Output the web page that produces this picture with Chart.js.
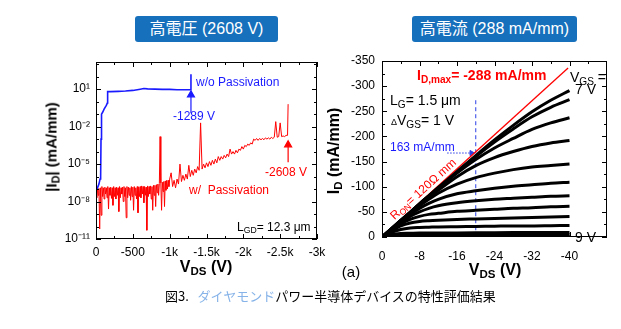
<!DOCTYPE html>
<html>
<head>
<meta charset="utf-8">
<title>ダイヤモンドパワー半導体デバイスの特性評価結果</title>
<script src="https://cdn.jsdelivr.net/npm/chart.js@4.4.1/dist/chart.umd.min.js"></script>
<style>
  html, body { margin: 0; padding: 0; background: #fff; }
  #fig { position: relative; width: 621px; height: 329px; overflow: hidden;
         font-family: "Liberation Sans", Arial, "Noto Sans CJK JP", sans-serif; color: #000; }
  canvas { position: absolute; left: 0; top: 0; }
  .t { position: absolute; white-space: nowrap; line-height: 1; transform: translateY(-50%); z-index: 2; }
  .t sub { font-size: 72%; vertical-align: -0.25em; line-height: 0; }
  .box { position: absolute; top: 16px; height: 26px; background: #1670bc; color: #fff;
         border-radius: 3px; font-size: 16px; line-height: 26px; text-align: center; z-index: 2; }
  .blue { color: #1a1aff; }
  .red { color: #ff0000; }
  .b { font-weight: bold; }
</style>
</head>
<body>
<div id="fig">
  <canvas id="bd" width="621" height="329"></canvas>
  <canvas id="iv" width="621" height="329"></canvas>

  <div class="box" style="left:135px;width:143px;">高電圧 (2608 V)</div>
  <div class="box" style="left:412px;width:165px;">高電流 (288 mA/mm)</div>

  <!-- 左パネル -->
  <div class="t blue" style="left:196px;top:82px;font-size:12px;">w/o Passivation</div>
  <div class="t blue" style="left:173px;top:116px;font-size:12px;">-1289 V</div>
  <div class="t red" style="left:265px;top:172px;font-size:12px;">-2608 V</div>
  <div class="t red" style="left:189px;top:190px;font-size:12px;">w/&nbsp;&nbsp;Passivation</div>
  <div class="t" style="left:237px;top:227px;font-size:12px;">L<sub>GD</sub>= 12.3 μm</div>
  <div class="t b" style="left:51px;top:147px;font-size:15px;transform:translate(-50%,-50%) rotate(-90deg);">|I<sub>D</sub>| (mA/mm)</div>
  <div class="t b" style="left:206px;top:267px;font-size:16px;transform:translate(-50%,-50%);">V<sub>DS</sub> (V)</div>

  <!-- 右パネル -->
  <div class="t red b" style="left:417px;top:75px;font-size:14px;">I<sub>D,max</sub>= -288 mA/mm</div>
  <div class="t" style="left:570px;top:77px;font-size:14px;">V<sub>GS</sub> =</div>
  <div class="t" style="left:575px;top:89px;font-size:14px;">7 V</div>
  <div class="t" style="left:390px;top:100px;font-size:14px;">L<sub>G</sub>= 1.5 μm</div>
  <div class="t" style="left:391px;top:120px;font-size:14px;"><span style="font-size:9px;">Δ</span>V<sub>GS</sub>= 1 V</div>
  <div class="t blue" style="left:390px;top:147px;font-size:12px;">163 mA/mm</div>
  <div class="t red" style="left:423px;top:189px;font-size:12px;transform:translate(-50%,-50%) rotate(-42.3deg);">R<sub>ON</sub>= 120Ω mm</div>
  <div class="t" style="left:575px;top:237px;font-size:14px;">9 V</div>
  <div class="t b" style="left:334px;top:151px;font-size:16px;transform:translate(-50%,-50%) rotate(-90deg);">I<sub>D</sub> (mA/mm)</div>
  <div class="t b" style="left:495px;top:270px;font-size:16px;transform:translate(-50%,-50%);">V<sub>DS</sub> (V)</div>
  <div class="t" style="left:351px;top:271px;font-size:15px;transform:translate(-50%,-50%);">(a)</div>

  <div class="t" style="left:165px;top:295px;font-size:13px;font-family:'Noto Sans CJK JP',sans-serif;">図3.&nbsp;&nbsp;&nbsp;<span style="color:#86b3e8;">ダイヤモンド</span>パワー半導体デバイスの特性評価結果</div>
</div>

<script>
// ---- 左: オフ耐圧 |I_D| - V_DS (対数表示、値は log10 で読み取り) ----
const noPassV = [0, -20, -40, -55, -63, -68, -75, -90, -110, -140, -155, -158, -200, -300,
  -400, -500, -600, -650, -700, -800, -900, -1000, -1100, -1200, -1285, -1289];
const noPassLogI = [-7.1, -6.9, -6.6, -6.2, -6.0, -3.0, -1.0, -0.85, -0.6, -0.3, -0.1, 0.8, 0.8, 0.82,
  0.85, 0.9, 1.0, 1.05, 1.02, 1.0, 0.98, 0.98, 0.95, 0.95, 0.95, 2.2];

const passV = [
  0, -10, -20, -30, -40, -50, -60, -70, -80, -90,
  -100, -110, -120, -130, -140, -150, -160, -170, -180, -190,
  -200, -210, -220, -230, -240, -250, -260, -270, -280, -290,
  -300, -310, -320, -330, -340, -350, -360, -370, -380, -390,
  -400, -410, -420, -430, -440, -450, -460, -470, -480, -490,
  -500, -510, -520, -530, -540, -550, -560, -570, -580, -590,
  -600, -610, -620, -630, -640, -650, -660, -670, -680, -690,
  -700, -710, -720, -730, -740, -750, -760, -770, -780, -790,
  -800, -810, -820, -830, -840, -850, -860, -870, -880, -890,
  -900, -910, -920, -930, -940, -950, -960, -970, -980, -990,
  -1000,
  -1020, -1040, -1060, -1080, -1100, -1120, -1140, -1160, -1180, -1200,
  -1220, -1240, -1260, -1280, -1300, -1320, -1340, -1360, -1380, -1400,
  -1420, -1440, -1460, -1480, -1500, -1520, -1540, -1560, -1580, -1600,
  -1620, -1640, -1660, -1680, -1700, -1720, -1740, -1760, -1780, -1800,
  -1820, -1840, -1860, -1880, -1900, -1920, -1940, -1960, -1980, -2000,
  -2020, -2040, -2060, -2080, -2100, -2120, -2140, -2160, -2180, -2200,
  -2220, -2240, -2260, -2280, -2300, -2320, -2340, -2360, -2380, -2400,
  -2420, -2440, -2460, -2480, -2500, -2520, -2540, -2560, -2580, -2600,
  -2608];
const passLogI = [
  -6.9, -7.7, -6.85, -7.5, -6.95, -10.2, -6.9, -9.1, -6.8, -7.6,
  -6.9, -7.8, -6.85, -7.4, -6.9, -7.7, -6.8, -8.6, -6.9, -7.5,
  -6.85, -7.75, -6.9, -8.3, -6.8, -7.6, -6.9, -7.8, -6.85, -7.5,
  -6.9, -8.8, -6.8, -7.7, -6.9, -7.4, -6.85, -8.0, -6.8, -7.6,
  -6.9, -9.3, -6.8, -7.7, -6.85, -7.5, -6.9, -7.9, -6.8, -7.6,
  -6.85, -8.7, -6.8, -7.5, -6.9, -7.8, -6.8, -8.9, -6.85, -7.6,
  -6.8, -7.7, -6.75, -7.4, -6.8, -8.1, -6.8, -7.5, -6.85, -10.3,
  -6.75, -7.6, -6.8, -7.4, -6.75, -7.8, -6.8, -8.7, -6.7, -7.5,
  -6.7, -8.4, -6.65, -7.3, -6.6, -7.5, -6.55, -2.8, -6.5, -8.7,
  -6.45, -7.2, -6.4, -8.4, -6.35, -7.1, -6.3, -7.0, -6.3, -6.8,
  -6.2,
  -5.7, -6.8, -6.3, -6.9, -6.2, -6.6, -5.0, -6.4, -5.9, -6.3,
  -5.8, -6.2, -5.1, -6.0, -5.5, -5.9, -5.4, -5.7, -5.2, -5.5,
  -1.7, -5.4, -5.0, -5.3, -4.9, -5.2, -4.8, -5.1, -4.7, -5.0,
  -4.6, -4.9, -4.4, -4.7, -4.4, -4.6, -4.3, -4.5, -4.2, -4.4,
  -3.8, -4.2, -4.0, -4.2, -3.9, -4.1, -3.8, -3.9, -3.6, -3.8,
  -3.5, -3.6, -3.4, -3.5, -3.3, -3.4, -3.0, -3.1, -2.95, -3.1,
  -2.95, -3.05, -2.95, -3.05, -2.9, -3.0, -2.9, -3.0, -2.85, -2.95,
  -2.85, -1.6, -2.85, -2.8, -1.7, -2.8, -2.75, -2.8, -2.7, -2.7,
  -0.2];

const bdTickX = [0, -500, -1000, -1500, -2000, -2500, -3000];
const bdTickXLabels = ['0', '-500', '-1k', '-1.5k', '-2k', '-2.5k', '-3k'];
const bdMinorX = [-250, -750, -1250, -1750, -2250, -2750];
const bdTickY = [1e-11, 1e-8, 1e-5, 1e-2, 1e1];
const bdTickYLabels = ['10⁻¹¹', '10⁻⁸', '10⁻⁵', '10⁻²', '10¹'];
const bdMinorY = [1e-10, 1e-9, 1e-7, 1e-6, 1e-4, 1e-3, 1e-1, 1, 1e2, 1e3];

// ---- 右: 出力特性 I_D - V_DS (上から V_GS の順) ----
const ivV = [0, -2, -4, -6, -8, -10, -12, -16, -20, -24, -28, -32, -36, -40];
const ivCurves = [
  [0, -16, -33, -49, -66, -82, -98, -130, -162, -193, -222, -249, -272, -291],
  [0, -16, -33, -49, -66, -82, -98, -129, -160, -189, -215, -239, -258, -273],
  [0, -16, -33, -49, -65, -81, -97, -127, -154, -177, -196, -214, -227, -237],
  [0, -16, -32, -48, -64, -79, -93, -120, -142, -158, -170, -180, -187, -192],
  [0, -16, -32, -47, -62, -75, -87, -105, -118, -127, -134, -139, -142, -145],
  [0, -16, -31, -45, -57, -67, -75, -86, -92, -97, -101, -104, -107, -109],
  [0, -15, -29, -41, -50, -57, -62, -68, -72, -75, -77, -79, -81, -82],
  [0, -14, -26, -35, -41, -45, -47, -51, -53, -55, -57, -58, -60, -61],
  [0, -12, -22, -28, -31, -32.5, -33.5, -35, -36, -37, -38, -39, -40, -41],
  [0, -9, -15, -18, -19, -19.5, -20, -20.5, -21, -21.5, -22, -22, -22.5, -23],
  [0, -5, -7, -7.5, -8, -8, -8, -8.2, -8.4, -8.6, -8.8, -9, -9, -9],
  [0, -3, -4, -4.3, -4.5, -4.6, -4.7, -4.8, -4.9, -5, -5, -5, -5, -5],
  [0, -1.5, -2, -2, -2, -2, -2, -2, -2, -2, -2, -2, -2, -2],
  [0, -0.5, -0.5, -0.5, -0.5, -0.5, -0.5, -0.5, -0.5, -0.5, -0.5, -0.5, -0.5, -0.5]
];
const ronV = [0, -39.7];
const ronI = [0, -336];
const ivTickX = [0, -8, -16, -24, -32, -40];
const ivMinorX = [-4, -12, -20, -28, -36, -44];
const ivTickY = [-350, -300, -250, -200, -150, -100, -50, 0];
const ivMinorY = [-325, -275, -225, -175, -125, -75, -25];

const pts = (xs, ys) => xs.map((x, i) => ({ x, y: ys[i] }));
const pow10 = a => a.map(e => Math.pow(10, e));
const tickFont = { family: 'Liberation Sans', size: 12 };

// 枠と内向きの目盛り (上下左右)
function frame(xMajor, xMinor, yMajor, yMinor) {
  return {
    id: 'frame',
    afterDraw(chart) {
      const { ctx, chartArea: a, scales: { x, y } } = chart;
      ctx.save();
      ctx.strokeStyle = '#000';
      ctx.lineWidth = 1;
      ctx.strokeRect(a.left + 0.5, a.top + 0.5, a.right - a.left - 1, a.bottom - a.top - 1);
      ctx.beginPath();
      const xm = (vals, len) => vals.forEach(v => {
        const p = Math.round(x.getPixelForValue(v)) + 0.5;
        ctx.moveTo(p, a.bottom); ctx.lineTo(p, a.bottom - len);
        ctx.moveTo(p, a.top); ctx.lineTo(p, a.top + len);
      });
      const ym = (vals, len) => vals.forEach(v => {
        const p = Math.round(y.getPixelForValue(v)) + 0.5;
        ctx.moveTo(a.left, p); ctx.lineTo(a.left + len, p);
        ctx.moveTo(a.right, p); ctx.lineTo(a.right - len, p);
      });
      xm(xMajor, 5); xm(xMinor, 3); ym(yMajor, 5); ym(yMinor, 3);
      ctx.stroke();
      ctx.restore();
    }
  };
}

function axis(extra, ticks, labels, fitSize, pad) {
  return Object.assign({
    grid: { display: false, drawTicks: false, tickLength: 0 },
    border: { display: false },
    afterBuildTicks: s => { s.ticks = ticks.map(v => ({ value: v })); },
    afterFit: s => {
      if (s.isHorizontal()) s.height = fitSize; else s.width = fitSize;
      s.paddingLeft = s.paddingRight = s.paddingTop = s.paddingBottom = 0;
    },
    ticks: {
      autoSkip: false, maxRotation: 0, padding: pad, color: '#000', font: tickFont,
      callback: (v, i) => labels[i]
    }
  }, extra);
}

const common = {
  responsive: false,
  animation: false,
  devicePixelRatio: 1,
  plugins: { legend: { display: false }, tooltip: { enabled: false } },
  elements: { point: { radius: 0 } }
};

new Chart(document.getElementById('bd'), {
  type: 'line',
  data: {
    datasets: [
      { data: pts(noPassV, pow10(noPassLogI)), borderColor: '#1a1aff', borderWidth: 1.6 },
      { data: pts(passV, pow10(passLogI)), borderColor: '#ff0000', borderWidth: 1 },
      { data: pts([-1289, -1289], [0.12, 3.5]), borderColor: '#1a1aff', borderWidth: 1.2,
        pointStyle: 'triangle', pointRadius: [0, 4], backgroundColor: '#1a1aff' },
      { data: pts([-2608, -2608], [1.4e-5, 3.5e-4]), borderColor: '#ff0000', borderWidth: 1.2,
        pointStyle: 'triangle', pointRadius: [0, 4], backgroundColor: '#ff0000' }
    ]
  },
  options: Object.assign({}, common, {
    layout: { padding: { left: 56, right: 304, top: 62, bottom: 60 } },
    scales: {
      x: axis({ type: 'linear', min: -3000, max: 0, reverse: true }, bdTickX, bdTickXLabels, 30, 6),
      y: axis({ type: 'logarithmic', min: 1e-11, max: 1500 }, bdTickY, bdTickYLabels, 40, 6)
    }
  }),
  plugins: [frame(bdTickX, bdMinorX, bdTickY, bdMinorY)]
});

const ivSets = ivCurves.map(c => ({
  data: pts(ivV, c), borderColor: '#000', borderWidth: 3, cubicInterpolationMode: 'monotone'
}));
ivSets.push(
  { data: pts(ronV, ronI), borderColor: '#ff0000', borderWidth: 1.3 },
  { data: pts([-20, -20], [-272, 0]), borderColor: '#2b3fe6', borderWidth: 1, borderDash: [4, 3] },
  { data: pts([-13.9, -19.1], [-167, -167]), borderColor: '#2b3fe6', borderWidth: 1, borderDash: [1.5, 1.5],
    pointStyle: 'triangle', rotation: 90, pointRadius: [0, 3], backgroundColor: '#2b3fe6' }
);

new Chart(document.getElementById('iv'), {
  type: 'line',
  data: { datasets: ivSets },
  options: Object.assign({}, common, {
    layout: { padding: { left: 342, right: 14, top: 61, bottom: 62 } },
    scales: {
      x: axis({ type: 'linear', min: -48, max: 0, reverse: true }, ivTickX, ivTickX.map(String), 30, 12),
      y: axis({ type: 'linear', min: -350, max: 0, reverse: true }, ivTickY, ivTickY.map(String), 40, 7)
    }
  }),
  plugins: [frame(ivTickX, ivMinorX, ivTickY, ivMinorY)]
});
</script>
</body>
</html>
